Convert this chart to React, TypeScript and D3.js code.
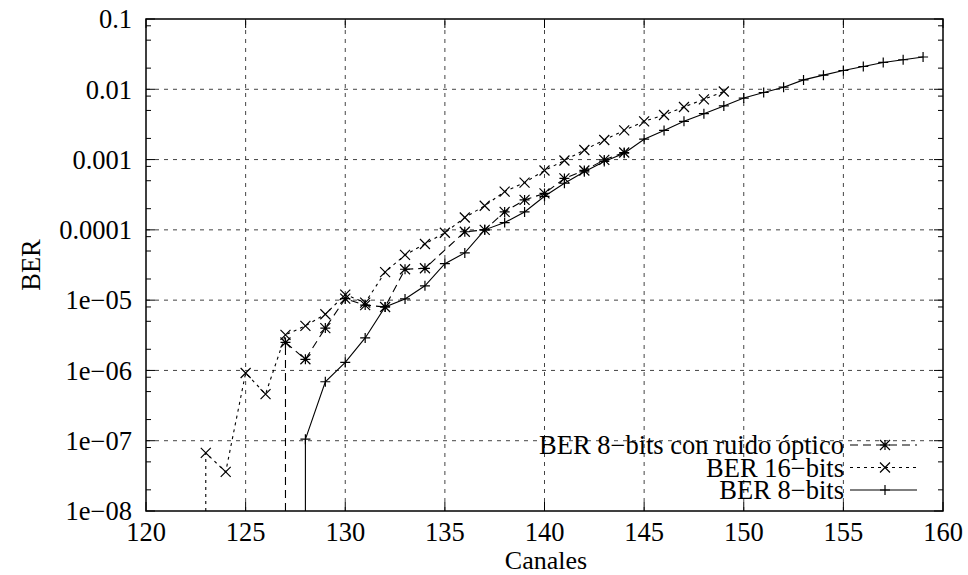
import React from "react";
import * as d3 from "d3";

const ch16 = [123,124,125,126,127,128,129,130,131,132,133,134,135,136,137,138,139,140,141,142,143,144,145,146,147,148,149];
const ber16 = [6.7e-8,3.6e-8,9.2e-7,4.6e-7,3.2e-6,4.3e-6,6.3e-6,1.2e-5,9.2e-6,2.5e-5,4.4e-5,6.3e-5,9.1e-5,1.5e-4,2.2e-4,3.5e-4,4.7e-4,7.0e-4,9.7e-4,1.37e-3,1.9e-3,2.6e-3,3.5e-3,4.3e-3,5.6e-3,7.2e-3,9.3e-3];

const chOpt = [127,128,129,130,131,132,133,134,136,137,138,139,140,141,142,143,144];
const berOpt = [2.5e-6,1.44e-6,4.0e-6,1.05e-5,8.5e-6,8.0e-6,2.75e-5,2.84e-5,9.4e-5,1.0e-4,1.8e-4,2.67e-4,3.3e-4,5.4e-4,7.0e-4,9.9e-4,1.26e-3];

const ch8 = [128,129,130,131,132,133,134,135,136,137,138,139,140,141,142,143,144,145,146,147,148,149,150,151,152,153,154,155,156,157,158,159];
const ber8 = [1.05e-7,6.9e-7,1.3e-6,2.9e-6,8.0e-6,1.04e-5,1.6e-5,3.3e-5,4.7e-5,1.0e-4,1.27e-4,1.8e-4,3.0e-4,4.6e-4,6.7e-4,9.4e-4,1.23e-3,1.95e-3,2.6e-3,3.5e-3,4.5e-3,5.8e-3,7.5e-3,9.0e-3,1.07e-2,1.36e-2,1.59e-2,1.85e-2,2.11e-2,2.41e-2,2.63e-2,2.88e-2];

const xTicks = [120,125,130,135,140,145,150,155,160];
const yTicks = [1e-8,1e-7,1e-6,1e-5,1e-4,1e-3,1e-2,1e-1];
const yTickLabels = ["1e\u221208","1e\u221207","1e\u221206","1e\u221205","0.0001","0.001","0.01","0.1"];
const minorMult = [2,5,8];

const seriesNames = ["BER 8\u2212bits con ruido óptico","BER 16\u2212bits","BER 8\u2212bits"];

const W = 968, H = 575;
const L = 146, R = 943, T = 19, B = 511;
const FONT = "'Liberation Serif', 'Times New Roman', serif";
const FS = 26.5;

function Marker({ kind, x, y }: { kind: string; x: number; y: number }) {
  const s = 5;
  const plus = `M${x - s},${y}H${x + s}M${x},${y - s}V${y + s}`;
  const cross = `M${x - s},${y - s}L${x + s},${y + s}M${x - s},${y + s}L${x + s},${y - s}`;
  const d = kind === "plus" ? plus : kind === "cross" ? cross : plus + cross;
  return <path d={d} stroke="#000" strokeWidth={1.2} fill="none" />;
}

export default function App() {
  const x = d3.scaleLinear().domain([120, 160]).range([L, R]);
  const y = d3.scaleLog().domain([1e-8, 0.1]).range([B, T]);

  const line = d3.line<[number, number]>().x(d => x(d[0])).y(d => y(d[1]));

  const series = [
    { name: seriesNames[0], chs: chOpt, vals: berOpt, dash: "8,5", marker: "star" },
    { name: seriesNames[1], chs: ch16, vals: ber16, dash: "3,4", marker: "cross" },
    { name: seriesNames[2], chs: ch8, vals: ber8, dash: "none", marker: "plus" },
  ];

  const minorY: number[] = [];
  for (let k = -8; k < -1; k++) for (const m of minorMult) minorY.push(m * Math.pow(10, k));

  return (
    <svg width={W} height={H} style={{ position: "absolute", left: 0, top: 0, background: "#fff" }} fontFamily={FONT}>
      <rect x={0} y={0} width={W} height={H} fill="#fff" />
      {/* grid */}
      {xTicks.slice(1, -1).map(t => (
        <line key={"gx" + t} x1={x(t)} x2={x(t)} y1={B} y2={T} stroke="#444" strokeWidth={1} strokeDasharray="4,5" />
      ))}
      {yTicks.slice(1, -1).map(t => (
        <line key={"gy" + t} x1={L} x2={R} y1={y(t)} y2={y(t)} stroke="#444" strokeWidth={1} strokeDasharray="4,5" />
      ))}
      {/* ticks */}
      {xTicks.map(t => (
        <g key={"tx" + t}>
          <line x1={x(t)} x2={x(t)} y1={B} y2={B - 9} stroke="#000" />
          <line x1={x(t)} x2={x(t)} y1={T} y2={T + 9} stroke="#000" />
          <text x={x(t)} y={B + 30} textAnchor="middle" fontSize={FS}>{t}</text>
        </g>
      ))}
      {yTicks.map((t, i) => (
        <g key={"ty" + t}>
          <line x1={L} x2={L + 9} y1={y(t)} y2={y(t)} stroke="#000" />
          <line x1={R} x2={R - 9} y1={y(t)} y2={y(t)} stroke="#000" />
          <text x={L - 14} y={y(t)} dy="0.35em" textAnchor="end" fontSize={FS}>{yTickLabels[i]}</text>
        </g>
      ))}
      {minorY.map(t => (
        <g key={"my" + t}>
          <line x1={L} x2={L + 5} y1={y(t)} y2={y(t)} stroke="#000" />
          <line x1={R} x2={R - 5} y1={y(t)} y2={y(t)} stroke="#000" />
        </g>
      ))}
      {/* series */}
      {series.map(s => {
        const pts: [number, number][] = s.chs.map((c, i) => [c, s.vals[i]]);
        const drop: [number, number][] = [[s.chs[0], 1e-8], pts[0]];
        return (
          <g key={s.name}>
            <path d={line([...drop, ...pts.slice(1)]) || ""} fill="none" stroke="#000" strokeWidth={1.1} strokeDasharray={s.dash} />
            {pts.map((p, i) => <Marker key={i} kind={s.marker} x={x(p[0])} y={y(p[1])} />)}
          </g>
        );
      })}
      {/* border */}
      <rect x={L} y={T} width={R - L} height={B - T} fill="none" stroke="#000" strokeWidth={1.5} />
      {/* legend */}
      {series.map((s, i) => {
        const ly = 445 + i * 22.5;
        return (
          <g key={"lg" + i}>
            <text x={844} y={ly} dy="0.35em" textAnchor="end" fontSize={FS}>{s.name}</text>
            <line x1={850} x2={917} y1={ly} y2={ly} stroke="#000" strokeWidth={1.1} strokeDasharray={s.dash} />
            <Marker kind={s.marker} x={885} y={ly} />
          </g>
        );
      })}
      {/* axis titles */}
      <text x={546} y={569} textAnchor="middle" fontSize={26}>Canales</text>
      <text transform={`translate(31,265) rotate(-90)`} textAnchor="middle" dy="0.35em" fontSize={FS}>BER</text>
    </svg>
  );
}
